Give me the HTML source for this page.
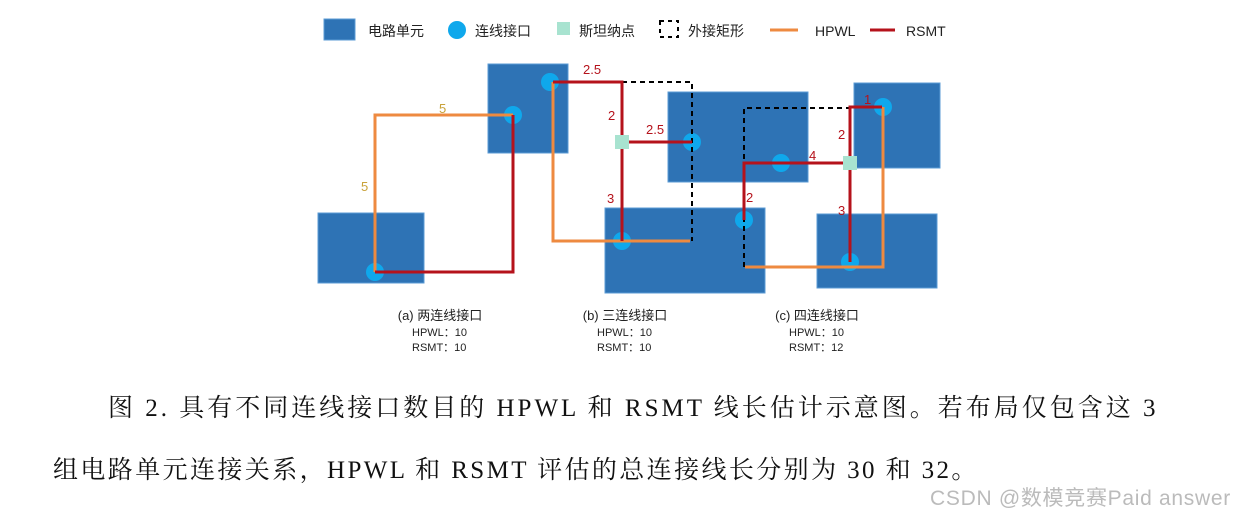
<!DOCTYPE html>
<html><head><meta charset="utf-8"><style>
body{margin:0;width:1249px;height:515px;background:#fff;overflow:hidden;position:relative}
.t{position:absolute;white-space:nowrap}
.s{font-family:"Liberation Sans","Noto Sans CJK SC",sans-serif;color:#222}
.sr{font-family:"Liberation Serif","Noto Serif CJK SC",serif;font-size:25px;letter-spacing:3px;color:#111}
</style></head><body>
<svg width="1249" height="515" style="position:absolute;left:0;top:0" font-family="Liberation Sans, Noto Sans CJK SC, sans-serif">
<rect x="324" y="19" width="31" height="21" fill="#2e73b5" stroke="#5b9bd5"/>
<text x="368" y="36" font-size="14" fill="#222">电路单元</text>
<circle cx="457" cy="30" r="9" fill="#0fa8ec"/>
<text x="475" y="36" font-size="14" fill="#222">连线接口</text>
<rect x="557" y="22" width="13" height="13" fill="#a8e3d0"/>
<text x="579" y="36" font-size="14" fill="#222">斯坦纳点</text>
<rect x="660" y="21" width="18" height="16" fill="none" stroke="#000" stroke-width="2" stroke-dasharray="4,4"/>
<text x="688" y="36" font-size="14" fill="#222">外接矩形</text>
<line x1="770" y1="30" x2="798" y2="30" stroke="#ee8a40" stroke-width="3"/>
<text x="815" y="36" font-size="14" fill="#222">HPWL</text>
<line x1="870" y1="30" x2="895" y2="30" stroke="#b5121b" stroke-width="3"/>
<text x="906" y="36" font-size="14" fill="#222">RSMT</text>
<g fill="#2e73b5" stroke="#5b9bd5" stroke-width="1">
<rect x="318" y="213" width="106" height="70"/>
<rect x="488" y="64" width="80" height="89"/>
<rect x="668" y="92" width="140" height="90"/>
<rect x="605" y="208" width="160" height="85"/>
<rect x="854" y="83" width="86" height="85"/>
<rect x="817" y="214" width="120" height="74"/>
</g>
<g fill="#0fa8ec">
<circle cx="375" cy="272" r="9"/><circle cx="513" cy="115" r="9"/>
<circle cx="550" cy="82" r="9"/><circle cx="692" cy="142" r="9"/><circle cx="622" cy="241" r="9"/>
<circle cx="883" cy="107" r="9"/><circle cx="781" cy="163" r="9"/><circle cx="744" cy="220" r="9"/><circle cx="850" cy="262" r="9"/>
</g>
<g fill="none" stroke="#000" stroke-width="2" stroke-dasharray="5,4">
<polyline points="622,82 692,82 692,241"/>
<polyline points="744,267 744,108 850,108"/>
</g>
<g fill="none" stroke="#ee8a40" stroke-width="3">
<polyline points="375,272 375,115 513,115"/>
<polyline points="553,82 553,241 690,241"/>
<polyline points="745,267 883,267 883,107"/>
</g>
<g fill="none" stroke="#b5121b" stroke-width="3">
<polyline points="375,272 513,272 513,115"/>
<polyline points="553,82 622,82 622,241"/>
<polyline points="622,142 692,142"/>
<polyline points="882,107 850,107 850,262"/>
<polyline points="850,163 744,163 744,220"/>
</g>
<rect x="615" y="135" width="14" height="14" fill="#a8e3d0"/>
<rect x="843" y="156" width="14" height="14" fill="#a8e3d0"/>
<g font-size="13">
<text x="439" y="113" fill="#c9a23a">5</text>
<text x="361" y="191" fill="#c9a23a">5</text>
<g fill="#b5121b">
<text x="583" y="74">2.5</text><text x="608" y="120">2</text><text x="646" y="134">2.5</text><text x="607" y="203">3</text>
<text x="864" y="104">1</text><text x="838" y="139">2</text><text x="809" y="160">4</text><text x="746" y="202">2</text><text x="838" y="215">3</text>
</g>
</g>
<g font-size="13" fill="#222" text-anchor="middle">
<text x="440" y="320">(a) 两连线接口</text>
<text x="625" y="320">(b) 三连线接口</text>
<text x="817" y="320">(c) 四连线接口</text>
</g>
<g font-size="11" fill="#222">
<text x="412" y="336">HPWL：10</text><text x="412" y="351">RSMT：10</text>
<text x="597" y="336">HPWL：10</text><text x="597" y="351">RSMT：10</text>
<text x="789" y="336">HPWL：10</text><text x="789" y="351">RSMT：12</text>
</g>
</svg>
<div class="t sr" style="left:108px;top:388px">图 2. 具有不同连线接口数目的 HPWL 和 RSMT 线长估计示意图。若布局仅包含这 3</div>
<div class="t sr" style="left:53px;top:450px;letter-spacing:2.4px">组电路单元连接关系，HPWL 和 RSMT 评估的总连接线长分别为 30 和 32。</div>
<div class="t s" style="left:930px;top:482px;font-size:21px;letter-spacing:0.7px;color:#bbb">CSDN @数模竞赛Paid answer</div>
</body></html>
